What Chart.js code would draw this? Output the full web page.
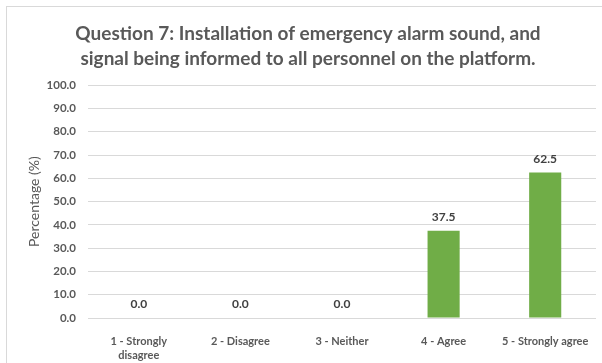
<!DOCTYPE html>
<html>
<head>
<meta charset="utf-8">
<script src="https://cdn.jsdelivr.net/npm/chart.js@4.4.1/dist/chart.umd.min.js"></script>
<style>
  html, body { margin: 0; padding: 0; background: #fff; }
  #wrap { width: 602px; height: 363px; }
</style>
</head>
<body>
<div id="wrap"><canvas id="q7-chart" width="602" height="363"></canvas></div>
<script>
const categories = [['1 - Strongly', 'disagree'], '2 - Disagree', '3 - Neither', '4 - Agree', '5 - Strongly agree'];
const percentages = [0.0, 0.0, 0.0, 37.5, 62.5];
const yTicks = [0, 10, 20, 30, 40, 50, 60, 70, 80, 90, 100];

const textGrey = '#595959';
const fontName = 'Lato, "Open Sans", sans-serif';

// frame round the chart area, like the excel chart box
const framePlugin = {
  id: 'frame',
  beforeDraw(chart) {
    const ctx = chart.ctx;
    ctx.save();
    ctx.fillStyle = '#fff';
    ctx.fillRect(0, 0, chart.width, chart.height);
    ctx.strokeStyle = '#d9d9d9';
    ctx.lineWidth = 1;
    ctx.strokeRect(6.5, 6.5, 700, 400);
    ctx.restore();
  }
};

// value labels over the bars
const valueLabels = {
  id: 'valueLabels',
  afterDatasetsDraw(chart) {
    const ctx = chart.ctx;
    const meta = chart.getDatasetMeta(0);
    ctx.save();
    ctx.font = 'bold 12px ' + fontName;
    ctx.fillStyle = '#404040';
    ctx.textAlign = 'center';
    ctx.textBaseline = 'middle';
    meta.data.forEach((bar, i) => {
      ctx.fillText(percentages[i].toFixed(1), bar.x, bar.y - 13.5);
    });
    ctx.restore();
  }
};

const config = {
  type: 'bar',
  data: {
    labels: categories,
    datasets: [{
      label: 'Percentage',
      data: percentages,
      backgroundColor: '#70ad47',
      borderWidth: 0,
      barPercentage: 0.316,
      categoryPercentage: 1.0
    }]
  },
  options: {
    responsive: false,
    animation: false,
    layout: { padding: { left: 20, right: 6, top: 6, bottom: 0 } },
    plugins: {
      legend: { display: false },
      tooltip: { enabled: false },
      title: {
        display: true,
        text: ['Question 7: Installation of emergency alarm sound, and', 'signal being informed to all personnel on the platform.'],
        color: textGrey,
        font: { family: fontName, size: 19, weight: 'bold', lineHeight: 1.32 },
        padding: { top: 15, bottom: 14 }
      }
    },
    scales: {
      x: {
        grid: { display: false },
        border: { display: false },
        ticks: {
          color: textGrey,
          font: { family: fontName, size: 11, weight: 'bold', lineHeight: 1.3 },
          maxRotation: 0,
          autoSkip: false,
          padding: 8
        },
        afterFit: (s) => { s.height = 45; }
      },
      y: {
        min: 0,
        max: 100,
        afterBuildTicks: (s) => { s.ticks = yTicks.map(v => ({ value: v })); },
        grid: { color: '#d9d9d9', lineWidth: 1, drawTicks: false },
        border: { display: false },
        ticks: {
          color: textGrey,
          font: { family: fontName, size: 11.5, weight: 'bold' },
          padding: 12,
          callback: (v) => Number(v).toFixed(1)
        },
        title: {
          display: true,
          text: 'Percentage (%)',
          color: textGrey,
          font: { family: fontName, size: 14 },
          padding: { top: 6, bottom: 0 }
        },
        afterFit: (s) => { s.width = 68; }
      }
    }
  },
  plugins: [framePlugin, valueLabels]
};

const q7Chart = new Chart(document.getElementById('q7-chart'), config);
</script>
</body>
</html>
